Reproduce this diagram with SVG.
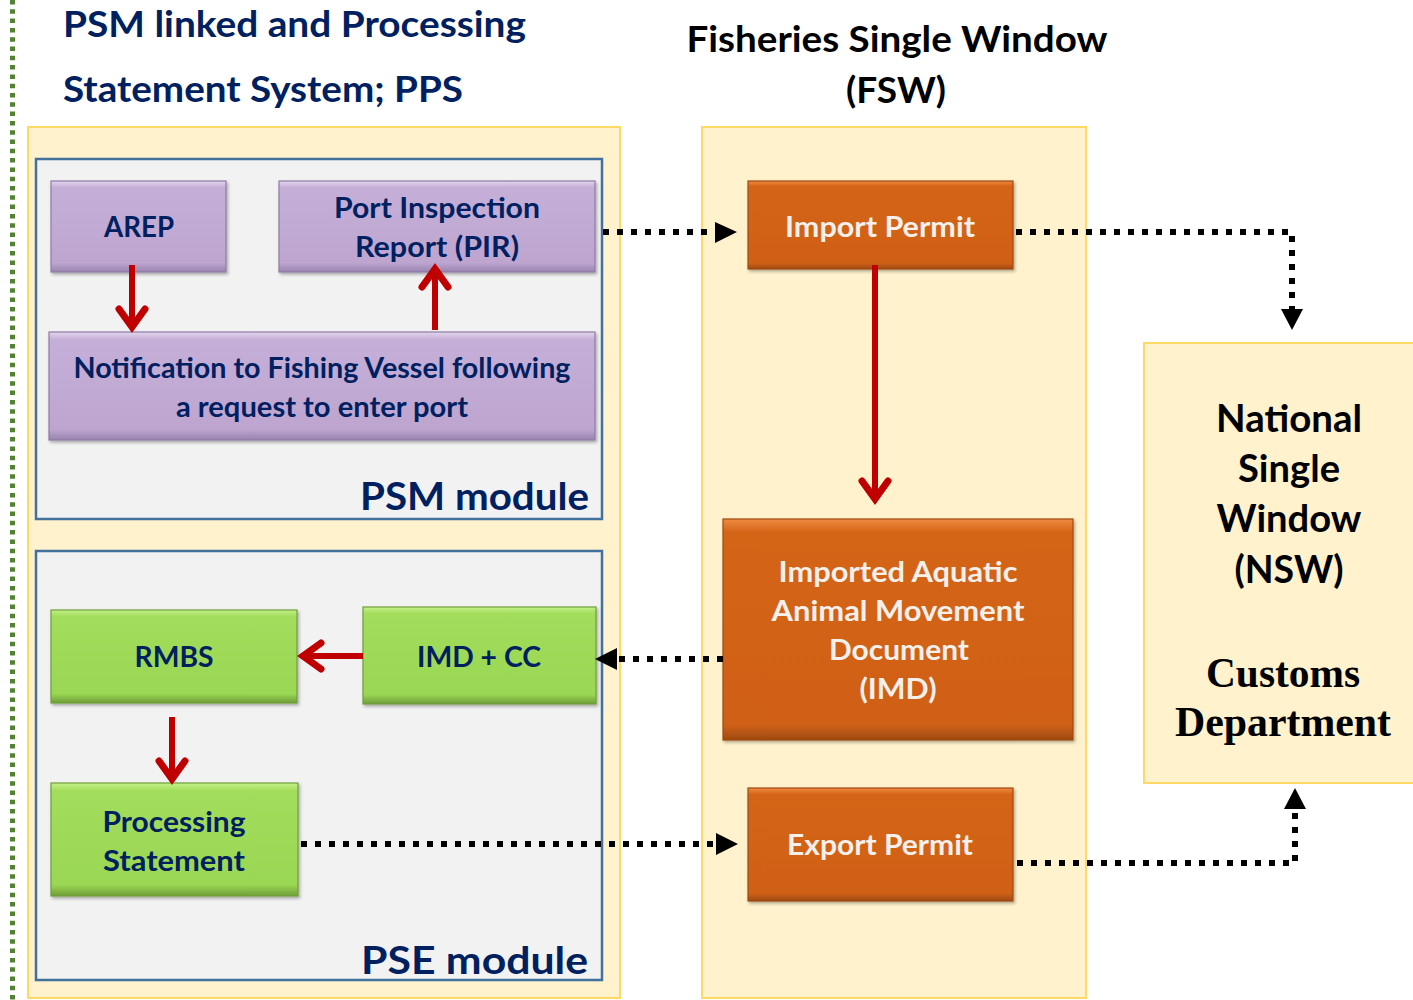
<svg xmlns="http://www.w3.org/2000/svg" width="1413" height="1000" viewBox="0 0 1413 1000">
<style>
.t{font-family:Lato,"Open Sans","Liberation Sans",sans-serif;font-weight:700;text-anchor:middle}
.navy{fill:#002060}
.wt{fill:#F5F0EC}
.blk{fill:#000}
.panel{fill:#FFF2CC;stroke:#FFD966;stroke-width:2}
.mod{fill:#F2F2F2;stroke:#41719C;stroke-width:2.5}
.purple{fill:url(#gP);stroke:#8F7BA6;stroke-width:1.2;filter:url(#sh)}
.green{fill:url(#gG);stroke:#6E9E3A;stroke-width:1.2;filter:url(#sh)}
.orange{fill:url(#gO);stroke:#9E4A10;stroke-width:1.2;filter:url(#sh)}
.red{stroke:#C00000;stroke-width:6;fill:none;stroke-linecap:butt}
.chev{stroke:#C00000;stroke-width:7;fill:none;stroke-linecap:round;stroke-linejoin:miter}
.dot{stroke:#000;stroke-width:6;fill:none;stroke-dasharray:6 8}
</style>
<defs>
<linearGradient id="gP" x1="0" y1="0" x2="0" y2="1">
<stop offset="0" stop-color="#E2D6EC"/><stop offset="0.07" stop-color="#C5AFD8"/><stop offset="0.9" stop-color="#BDA5D0"/><stop offset="1" stop-color="#9884AE"/>
</linearGradient>
<linearGradient id="gG" x1="0" y1="0" x2="0" y2="1">
<stop offset="0" stop-color="#C4F08A"/><stop offset="0.07" stop-color="#A2DD5C"/><stop offset="0.9" stop-color="#9AD753"/><stop offset="1" stop-color="#6F9E3A"/>
</linearGradient>
<linearGradient id="gO" x1="0" y1="0" x2="0" y2="1">
<stop offset="0" stop-color="#EE8A40"/><stop offset="0.06" stop-color="#D46517"/><stop offset="0.93" stop-color="#D06016"/><stop offset="1" stop-color="#9E4A10"/>
</linearGradient>
<filter id="sh" x="-5%" y="-5%" width="110%" height="115%">
<feDropShadow dx="1.5" dy="2" stdDeviation="1.5" flood-color="#000" flood-opacity="0.3"/>
</filter>
<marker id="ah" markerWidth="4" markerHeight="4" refX="0" refY="2" orient="auto" markerUnits="strokeWidth">
<path d="M0,0.2 L3.6,2 L0,3.8 Z" fill="#000"/>
</marker>
</defs>
<rect width="1413" height="1000" fill="#fff"/>
<line x1="12.5" y1="0" x2="12.5" y2="1000" stroke="#548235" stroke-width="5" stroke-dasharray="4.5 4.8"/>

<g id="titles">
<text class="t navy" x="63" y="37" font-size="36" style="text-anchor:start" textLength="463" lengthAdjust="spacingAndGlyphs">PSM linked and Processing</text>
<text class="t navy" x="63" y="102" font-size="36" style="text-anchor:start" textLength="400" lengthAdjust="spacingAndGlyphs">Statement System; PPS</text>
<text class="t blk" x="897" y="52" font-size="37" textLength="421" lengthAdjust="spacingAndGlyphs">Fisheries Single Window</text>
<text class="t blk" x="896" y="103" font-size="37" textLength="100" lengthAdjust="spacingAndGlyphs">(FSW)</text>
</g>

<g id="pps-panel"><rect class="panel" x="28" y="127" width="592" height="871"/></g>
<g id="fsw-panel"><rect class="panel" x="702" y="127" width="384" height="871"/></g>
<g id="nsw">
<rect class="panel" x="1144" y="343" width="280" height="440"/>
<text class="t blk" x="1289" y="432" font-size="38" textLength="146" lengthAdjust="spacingAndGlyphs">National</text>
<text class="t blk" x="1289" y="482" font-size="38" textLength="102" lengthAdjust="spacingAndGlyphs">Single</text>
<text class="t blk" x="1289" y="532" font-size="38" textLength="145" lengthAdjust="spacingAndGlyphs">Window</text>
<text class="t blk" x="1289" y="583" font-size="38" textLength="109" lengthAdjust="spacingAndGlyphs">(NSW)</text>
<text x="1283" y="687" font-family="'Liberation Serif',serif" font-weight="700" font-size="42" text-anchor="middle" textLength="154" lengthAdjust="spacingAndGlyphs">Customs</text>
<text x="1283" y="736" font-family="'Liberation Serif',serif" font-weight="700" font-size="42" text-anchor="middle" textLength="216" lengthAdjust="spacingAndGlyphs">Department</text>
</g>

<g id="psm-module">
<rect class="mod" x="36" y="159" width="566" height="360"/>
<text class="t navy" x="589" y="510" font-size="38" style="text-anchor:end" textLength="229" lengthAdjust="spacingAndGlyphs">PSM module</text>
</g>
<g id="pse-module">
<rect class="mod" x="36" y="551" width="566" height="429"/>
<text class="t navy" x="588" y="974" font-size="38" style="text-anchor:end" textLength="227" lengthAdjust="spacingAndGlyphs">PSE module</text>
</g>

<g id="arep">
<rect class="purple" x="51" y="181" width="175" height="91"/>
<text class="t navy" x="139" y="237" font-size="28" textLength="70" lengthAdjust="spacingAndGlyphs">AREP</text>
</g>
<g id="pir">
<rect class="purple" x="279" y="181" width="316" height="91"/>
<text class="t navy" x="437" y="218" font-size="28" textLength="206" lengthAdjust="spacingAndGlyphs">Port Inspection</text>
<text class="t navy" x="437" y="257" font-size="28" textLength="164" lengthAdjust="spacingAndGlyphs">Report (PIR)</text>
</g>
<g id="notification">
<rect class="purple" x="49" y="332" width="546" height="108"/>
<text class="t navy" x="322" y="378" font-size="28" textLength="497" lengthAdjust="spacingAndGlyphs">Notification to Fishing Vessel following</text>
<text class="t navy" x="322" y="417" font-size="28" textLength="292" lengthAdjust="spacingAndGlyphs">a request to enter port</text>
</g>
<g id="rmbs">
<rect class="green" x="51" y="610" width="246" height="93"/>
<text class="t navy" x="174" y="667" font-size="28" textLength="79" lengthAdjust="spacingAndGlyphs">RMBS</text>
</g>
<g id="imdcc">
<rect class="green" x="363" y="607" width="233" height="97"/>
<text class="t navy" x="479" y="667" font-size="28" textLength="124" lengthAdjust="spacingAndGlyphs">IMD + CC</text>
</g>
<g id="processing-statement">
<rect class="green" x="51" y="783" width="247" height="113"/>
<text class="t navy" x="174" y="832" font-size="28" textLength="143" lengthAdjust="spacingAndGlyphs">Processing</text>
<text class="t navy" x="174" y="871" font-size="28" textLength="142" lengthAdjust="spacingAndGlyphs">Statement</text>
</g>
<g id="import-permit">
<rect class="orange" x="748" y="181" width="265" height="88"/>
<text class="t wt" x="880" y="237" font-size="28" textLength="190" lengthAdjust="spacingAndGlyphs">Import Permit</text>
</g>
<g id="imd">
<rect class="orange" x="723" y="519" width="350" height="221"/>
<text class="t wt" x="898" y="582" font-size="28" textLength="239" lengthAdjust="spacingAndGlyphs">Imported Aquatic</text>
<text class="t wt" x="898" y="621" font-size="28" textLength="253" lengthAdjust="spacingAndGlyphs">Animal Movement</text>
<text class="t wt" x="899" y="660" font-size="28" textLength="140" lengthAdjust="spacingAndGlyphs">Document</text>
<text class="t wt" x="898" y="699" font-size="28" textLength="77" lengthAdjust="spacingAndGlyphs">(IMD)</text>
</g>
<g id="export-permit">
<rect class="orange" x="748" y="788" width="265" height="113"/>
<text class="t wt" x="880" y="855" font-size="28" textLength="186" lengthAdjust="spacingAndGlyphs">Export Permit</text>
</g>

<g id="connectors">
<line class="red" x1="132" y1="265" x2="132" y2="326"/>
<polyline class="chev" points="119,309 132,327 145,309"/>
<line class="red" x1="435" y1="330" x2="435" y2="270"/>
<polyline class="chev" points="422,287 435,269 448,287"/>
<line class="red" x1="875" y1="265" x2="875" y2="498"/>
<polyline class="chev" points="862,481 875,499 888,481"/>
<line class="red" x1="363" y1="656" x2="304" y2="656"/>
<polyline class="chev" points="321,643 303,656 321,669"/>
<line class="red" x1="172" y1="717" x2="172" y2="778"/>
<polyline class="chev" points="159,761 172,779 185,761"/>

<line class="dot" x1="603" y1="232" x2="716" y2="232"/>
<path d="M715,222 L737,232 L715,243 Z" fill="#000"/>
<polyline class="dot" points="1016,232 1292,232 1292,309"/>
<path d="M1281,309 L1292,330 L1303,309 Z" fill="#000"/>
<line class="dot" x1="723" y1="659" x2="617" y2="659"/>
<path d="M617,648 L595,659 L617,670 Z" fill="#000"/>
<line class="dot" x1="301" y1="844" x2="716" y2="844"/>
<path d="M716,833 L738,844 L716,855 Z" fill="#000"/>
<polyline class="dot" points="1017,863 1295,863 1295,808"/>
<path d="M1284,809 L1295,788 L1306,809 Z" fill="#000"/>
</g>
</svg>
